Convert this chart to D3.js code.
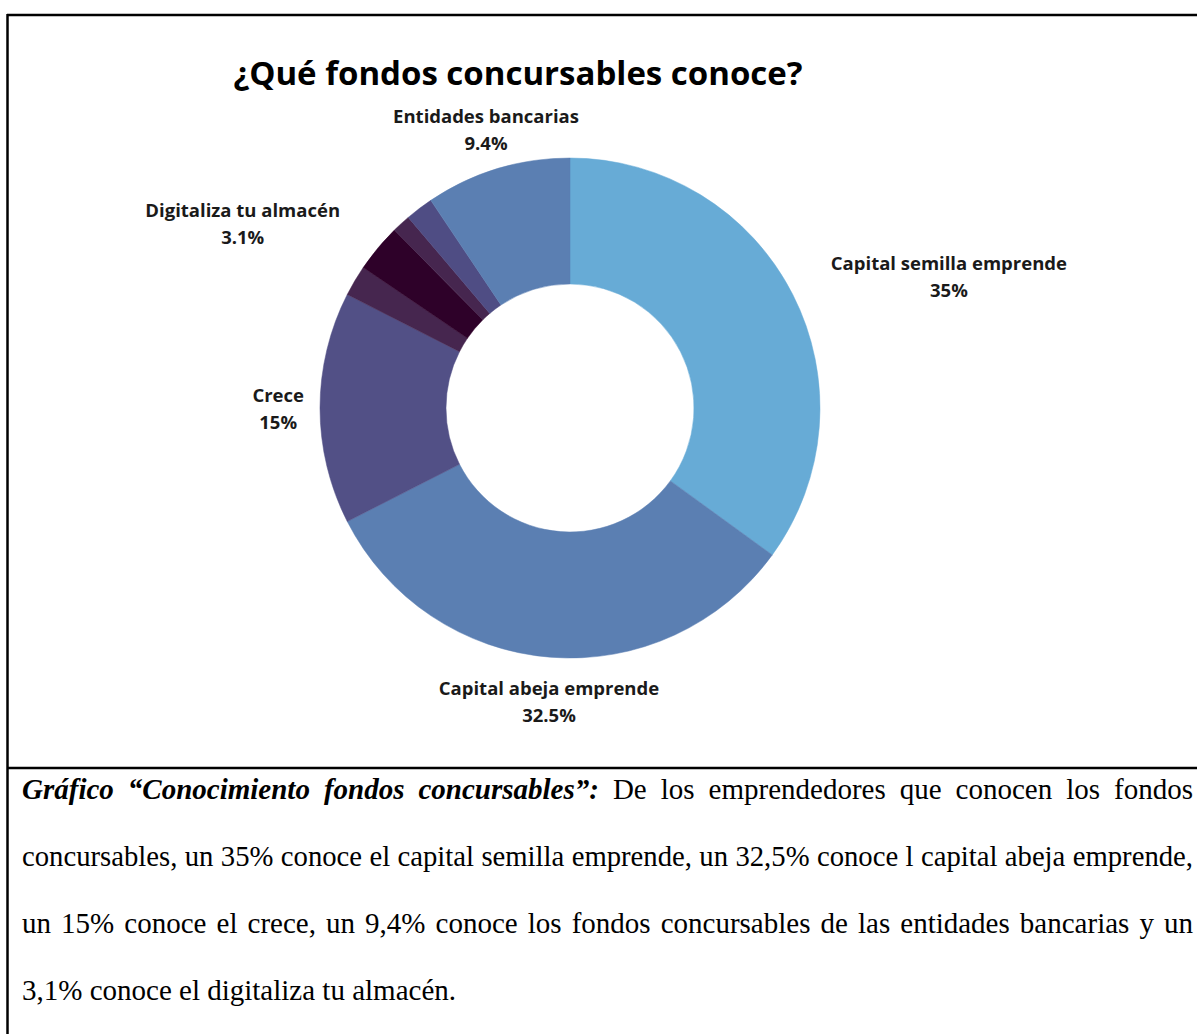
<!DOCTYPE html>
<html>
<head>
<meta charset="utf-8">
<script src="https://cdn.jsdelivr.net/npm/d3@7"></script>
<style>
  html, body { margin: 0; padding: 0; background: #fff; }
  svg { display: block; }
</style>
</head>
<body>
<svg id="chart" width="1197" height="1034"></svg>
<script>
// ---------- data ----------
const categories = [
  "Capital semilla emprende",
  "Capital abeja emprende",
  "Crece",
  "Otro 1",
  "Digitaliza tu almacén",
  "Otro 2",
  "Otro 3",
  "Entidades bancarias"
];
const values = [35, 32.5, 15, 2, 3.1, 1.2, 1.8, 9.4];
const valueLabels = ["35%", "32.5%", "15%", "", "3.1%", "", "", "9.4%"];
const showLabel = [true, true, true, false, true, false, false, true];

const chartTitle = "¿Qué fondos concursables conoce?";
const captionBold = "Gráfico “Conocimiento fondos concursables”:";
const captionLines = [
  " De los emprendedores que conocen los fondos",
  "concursables, un 35% conoce el capital semilla emprende, un 32,5% conoce l capital abeja emprende,",
  "un 15% conoce el crece, un 9,4% conoce los fondos concursables de las entidades bancarias y un",
  "3,1% conoce el digitaliza tu almacén."
];

// ---------- styles / layout ----------
const colors = ["#67abd6", "#5b7fb2", "#525086", "#46264f", "#2e0129", "#46264f", "#4f4d84", "#5b7fb2"];
const labelNudge = {
  "Capital semilla emprende": [22, -10],
  "Entidades bancarias": [-6, 3],
  "Digitaliza tu almacén": [-24, -14],
  "Crece": [2, 0]
};

const svg = d3.select("#chart");
const W = 1197;
const cx = 570, cy = 408, rOuter = 250, rInner = 124, rLabel = 268;

// frame lines
const frame = svg.append("g").attr("stroke", "#000").attr("stroke-width", 2.5);
frame.append("line").attr("x1", 7).attr("x2", W).attr("y1", 15).attr("y2", 15);
frame.append("line").attr("x1", 7.5).attr("x2", 7.5).attr("y1", 14).attr("y2", 1034);
frame.append("line").attr("x1", 7).attr("x2", W).attr("y1", 768).attr("y2", 768);

// title
svg.append("text")
  .attr("x", 518).attr("y", 85)
  .attr("text-anchor", "middle")
  .attr("font-family", "'Open Sans', sans-serif")
  .attr("font-weight", 700)
  .attr("font-size", 33)
  .attr("fill", "#000")
  .text(chartTitle);

// donut
const data = categories.map((c, i) => ({ name: c, value: values[i], label: valueLabels[i], show: showLabel[i], color: colors[i] }));
const pie = d3.pie().sort(null).value(d => d.value).startAngle(0).endAngle(2 * Math.PI);
const arc = d3.arc().innerRadius(rInner).outerRadius(rOuter);
const arcs = pie(data);

const g = svg.append("g").attr("transform", `translate(${cx},${cy})`);
g.selectAll("path").data(arcs).join("path")
  .attr("d", arc)
  .attr("fill", d => d.data.color)
  .attr("stroke", d => d.data.color)
  .attr("stroke-width", 0.5);

// labels
const lblG = g.append("g")
  .attr("font-family", "'Open Sans', sans-serif")
  .attr("font-weight", 700)
  .attr("font-size", 18.5)
  .attr("fill", "#1a1a1a");

arcs.filter(d => d.data.show).forEach(d => {
  const a = (d.startAngle + d.endAngle) / 2;
  const s = Math.sin(a), c = -Math.cos(a);
  const px = s * rLabel, py = c * rLabel;
  const t = lblG.append("text").attr("text-anchor", "middle");
  t.append("tspan").attr("x", 0).attr("dy", 0).text(d.data.name);
  t.append("tspan").attr("x", 0).attr("dy", 27).text(d.data.label);
  const bb = t.node().getBBox();
  let x, y;
  if (Math.abs(s) > 0.5) {
    x = px + Math.sign(s) * bb.width / 2;
    y = py - (bb.y + bb.height / 2);
  } else {
    x = px;
    y = c > 0 ? py - bb.y : py - (bb.y + bb.height);
  }
  const n = labelNudge[d.data.name] || [0, 0];
  t.attr("transform", `translate(${x + n[0]},${y + n[1]})`);
});

// caption (justified)
const capLeft = 22, capRight = 1193, capTop = 799, capStep = 67, capSize = 29;
const capG = svg.append("g")
  .attr("font-family", "'Liberation Serif', 'Times New Roman', serif")
  .attr("font-size", capSize)
  .attr("fill", "#000");

captionLines.forEach((line, i) => {
  const t = capG.append("text").attr("x", capLeft).attr("y", capTop + i * capStep).attr("xml:space", "preserve");
  if (i === 0) {
    t.append("tspan").attr("font-weight", 700).attr("font-style", "italic").text(captionBold);
  }
  t.append("tspan").text(line);
  if (i < captionLines.length - 1) {
    const full = (i === 0 ? captionBold : "") + line;
    const spaces = (full.match(/ /g) || []).length;
    const target = capRight - capLeft;
    let w = t.node().getComputedTextLength();
    if (w > target) {
      t.attr("font-size", capSize * target / w * 0.998);
      w = t.node().getComputedTextLength();
    }
    const extra = target - w;
    if (extra > 0) t.style("word-spacing", (extra / spaces) + "px");
  }
});
</script>
</body>
</html>
